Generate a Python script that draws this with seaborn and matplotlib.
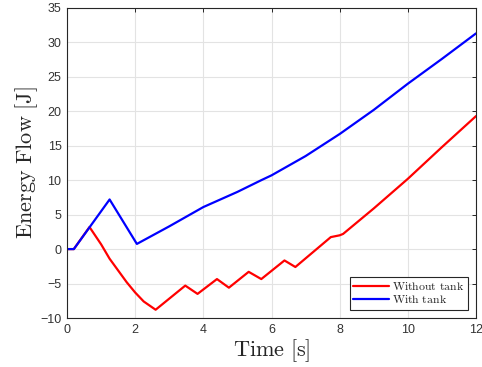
import matplotlib
import matplotlib.pyplot as plt
import pandas as pd
import seaborn as sns

matplotlib.use("Agg")

# values
T_NO_TANK = [0.0, 0.2, 0.66, 1.0, 1.25, 1.5, 1.75, 2.0, 2.25, 2.6, 3.47, 3.83, 4.4, 4.75,
             5.33, 5.7, 6.38, 6.7, 7.74, 8.0, 8.1, 9.0, 10.0, 11.0, 12.0]
E_NO_TANK = [0.0, 0.0, 3.2, 0.7, -1.4, -3.1, -4.8, -6.3, -7.6, -8.8, -5.3, -6.5, -4.35, -5.6,
             -3.3, -4.35, -1.65, -2.6, 1.74, 2.0, 2.2, 5.9, 10.2, 14.8, 19.3]

T_TANK = [0.0, 0.2, 1.25, 2.05, 3.0, 4.0, 5.0, 5.7, 6.0, 7.0, 8.0, 9.0, 10.0, 11.0, 12.0]
E_TANK = [0.0, 0.0, 7.2, 0.75, 3.3, 6.1, 8.3, 10.0, 10.7, 13.5, 16.7, 20.2, 24.0, 27.6, 31.3]

SERIES = ["Without tank", "With tank"]
COLORS = {"Without tank": "#ff0000", "With tank": "#0000ff"}

df = pd.concat([
    pd.DataFrame({"t": T_NO_TANK, "e": E_NO_TANK, "case": SERIES[0]}),
    pd.DataFrame({"t": T_TANK, "e": E_TANK, "case": SERIES[1]}),
])

sns.set_style("white")
plt.rcParams["mathtext.fontset"] = "cm"
plt.rcParams["font.family"] = ["Liberation Sans", "DejaVu Sans"]

fig = plt.figure(figsize=(4.82, 3.67), dpi=100)
ax = fig.add_axes([0.139, 0.1335, 0.8486, 0.845])

sns.lineplot(data=df, x="t", y="e", hue="case", hue_order=SERIES, palette=COLORS,
             sort=False, estimator=None, linewidth=1.6, ax=ax)

ax.set_xlim(0, 12)
ax.set_ylim(-10, 35)
ax.set_xticks(range(0, 13, 2))
ax.set_yticks(range(-10, 36, 5))
ax.grid(True, color="#e3e3e3", linewidth=0.8)
ax.set_axisbelow(True)
for s in ax.spines.values():
    s.set_color("#262626")
    s.set_linewidth(0.8)
ax.tick_params(direction="in", length=3, width=0.7, colors="#262626",
               labelsize=9, top=True, right=True, pad=4)
for lab in ax.get_xticklabels() + ax.get_yticklabels():
    lab.set_color("#333333")

ax.set_xlabel(r"$\mathrm{Time\ [s]}$", fontsize=16, labelpad=1)
ax.set_ylabel(r"$\mathrm{Energy\ Flow\ [J]}$", fontsize=16, labelpad=0)

leg = ax.legend(loc="lower right", fontsize=8.5, frameon=True, fancybox=False,
                edgecolor="#262626", framealpha=1, borderaxespad=0.7,
                handlelength=3.0, handletextpad=0.3, borderpad=0.3,
                labelspacing=0.1)
leg.get_frame().set_linewidth(0.8)
for txt in leg.get_texts():
    txt.set_text(r"$\mathrm{" + txt.get_text().replace(" ", r"\ ") + "}$")

fig.savefig("out.png", dpi=100)
